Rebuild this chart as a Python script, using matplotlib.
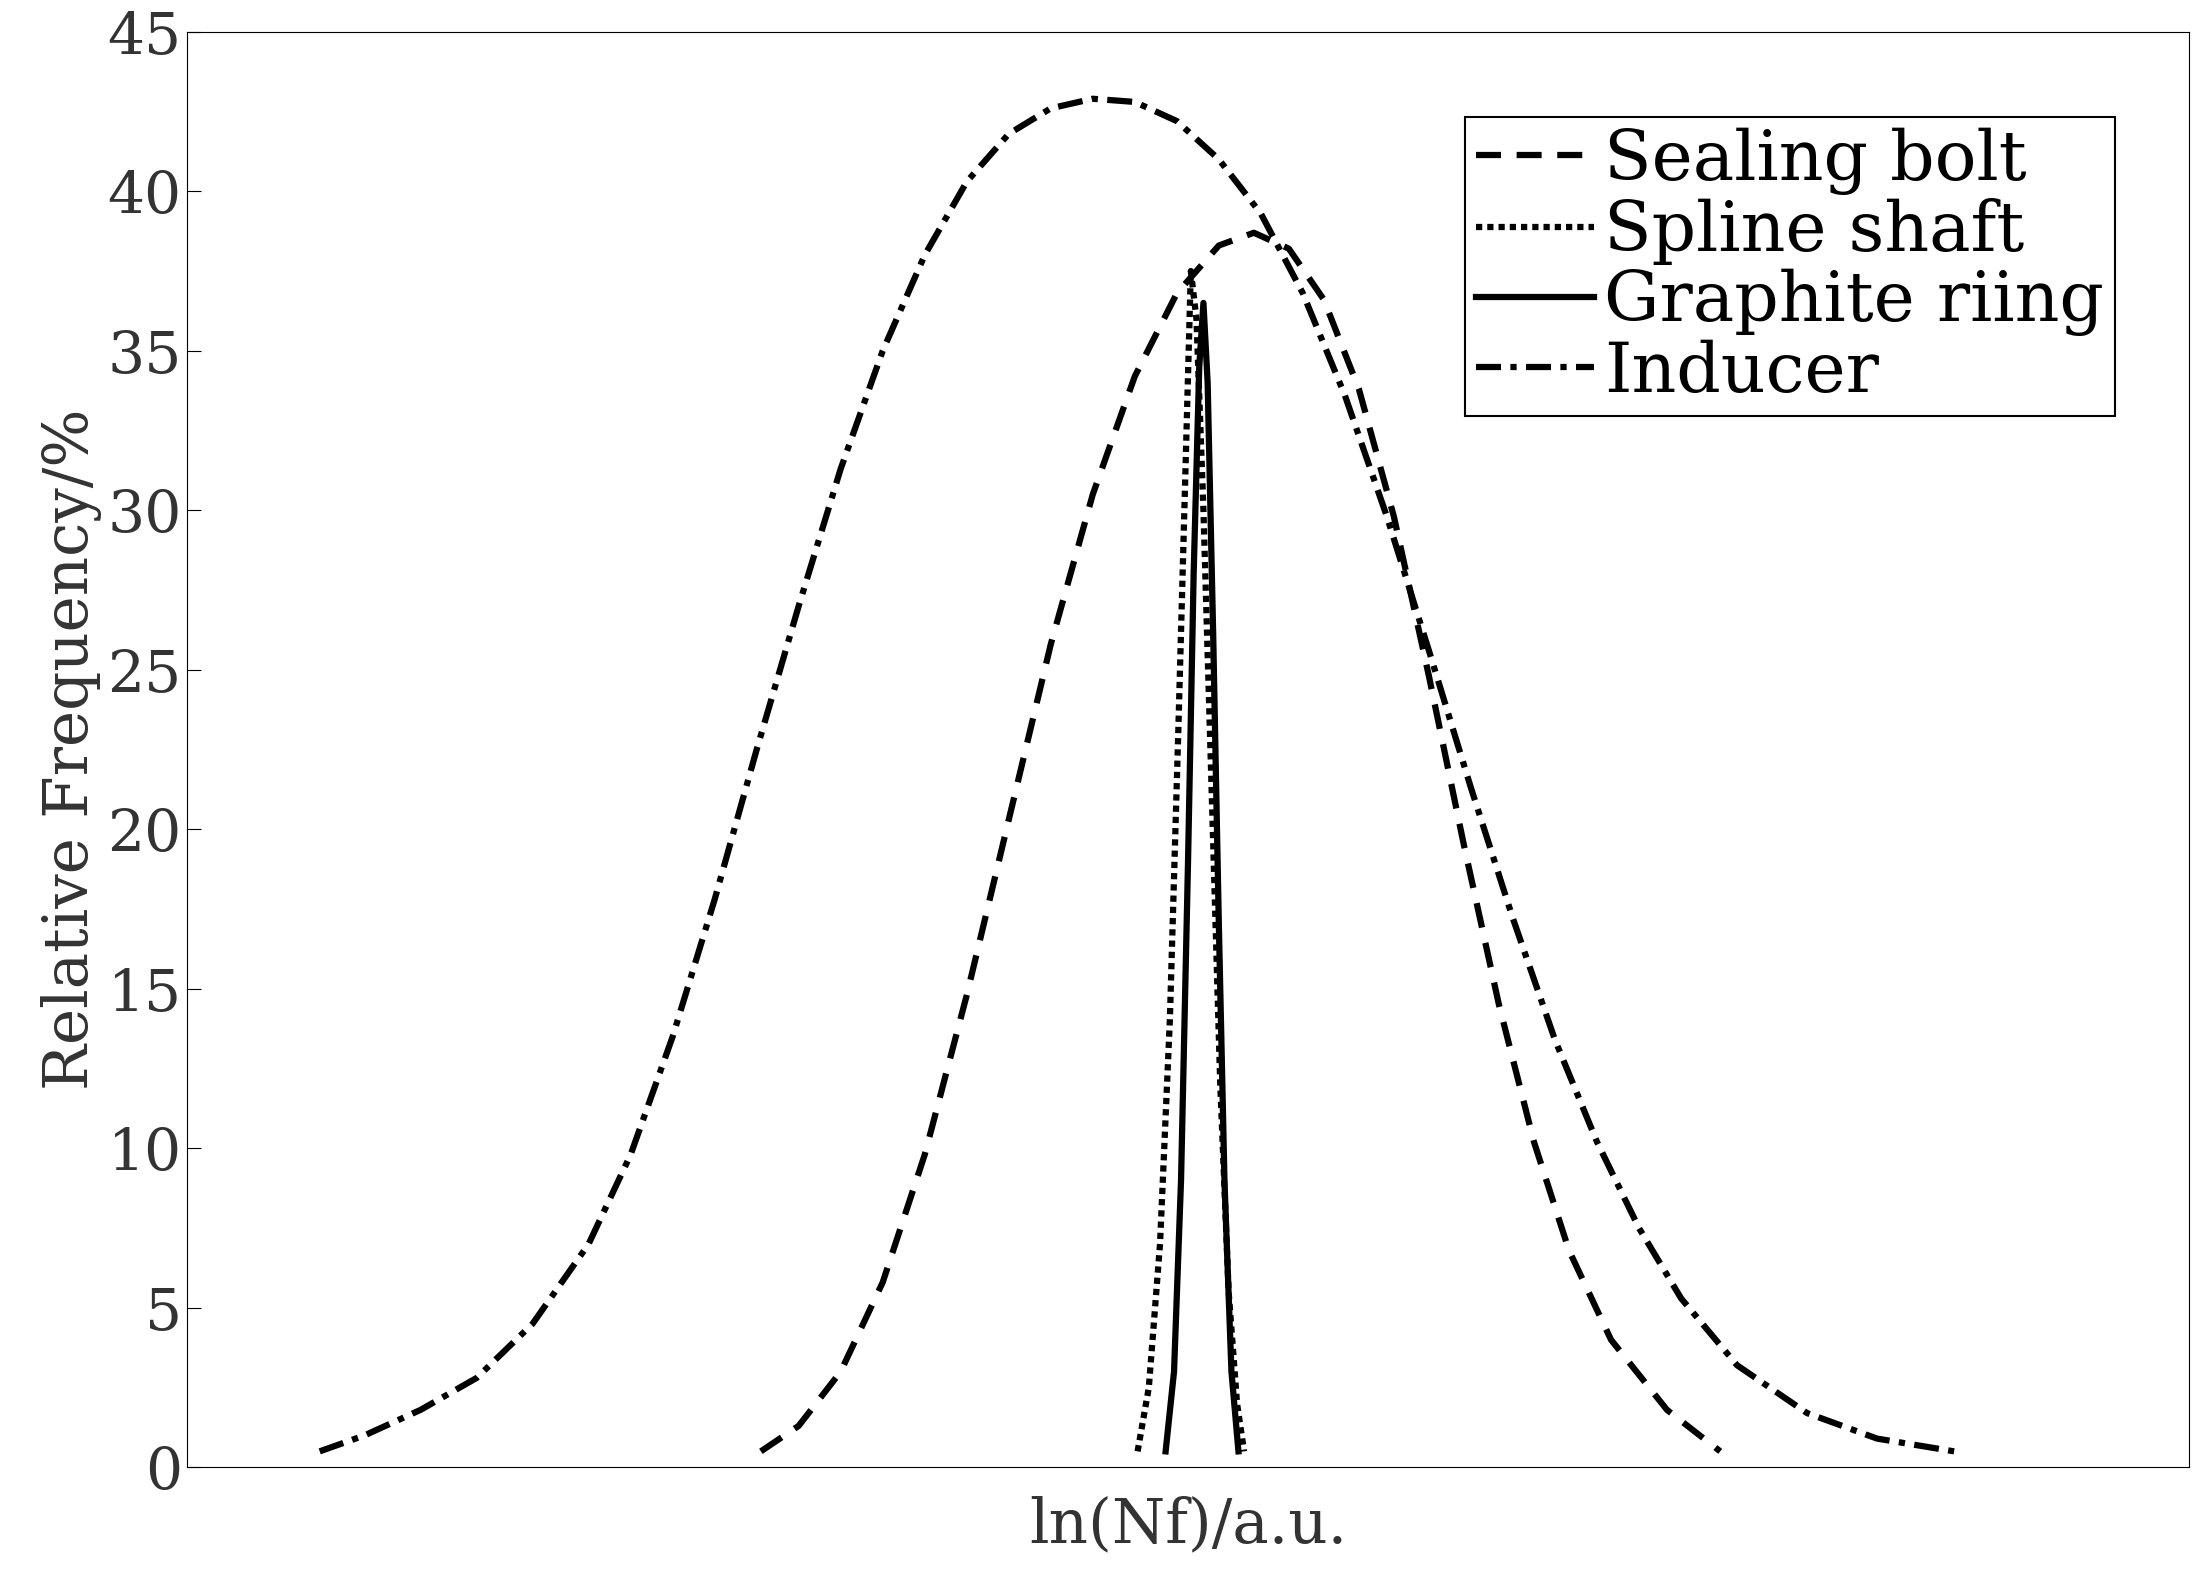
import matplotlib
matplotlib.use("Agg")
import matplotlib.pyplot as plt

# x in arbitrary ln(Nf) units (no ticks on the original axis)
ind_x = [228, 260, 300, 340, 380, 420, 450, 480, 510, 540, 570, 600, 630, 660, 690, 720,
         750, 780, 810, 840, 870, 900, 930, 960, 990, 1020, 1050, 1080, 1110, 1140, 1170,
         1200, 1240, 1290, 1340, 1395]
ind_y = [0.5, 1.0, 1.8, 2.8, 4.5, 7, 9.8, 13.5, 17.8, 22.5, 27, 31.3, 35, 38, 40.3, 41.8,
         42.6, 42.9, 42.8, 42.2, 41, 39.3, 36.8, 33.6, 29.8, 25.6, 21.3, 17.2, 13.4, 10.2, 7.5,
         5.3, 3.2, 1.7, 0.9, 0.5]
bolt_x = [543, 570, 600, 630, 660, 690, 720, 750, 780, 810, 840, 870, 895, 920, 945, 970,
          995, 1020, 1045, 1070, 1095, 1120, 1150, 1190, 1228]
bolt_y = [0.5, 1.3, 3, 5.8, 9.8, 14.8, 20.3, 25.8, 30.5, 34.2, 36.8, 38.3, 38.7, 38.2, 36.6, 33.8,
          29.8, 24.8, 19.5, 14.5, 10.2, 6.8, 4, 1.8, 0.5]
spline_x = [812, 820, 828, 835, 841, 846, 850, 854, 859, 865, 871, 877, 883, 888]
spline_y = [0.5, 2.5, 7, 14, 23, 31, 37.5, 36, 30, 21, 12, 5.5, 2, 0.5]
ring_x = [832, 838, 843, 848, 852, 856, 859, 862, 866, 870, 874, 879, 884]
ring_y = [0.5, 3, 9, 19, 28, 34.5, 36.5, 34, 26, 17, 9, 3, 0.5]

plt.rcParams["font.family"] = ["DejaVu Serif"]
fig = plt.figure(figsize=(21.96, 15.88), dpi=100)
ax = fig.add_axes([0.085, 0.076, 0.912, 0.904])
lw = 4.5
ax.plot(bolt_x, bolt_y, "k", ls=(0, (4, 2.5)), lw=lw, label="Sealing bolt")
ax.plot(spline_x, spline_y, "k", ls=(0, (1, 0.8)), lw=lw, label="Spline shaft")
ax.plot(ring_x, ring_y, "k", ls="-", lw=lw, label="Graphite riing")
ax.plot(ind_x, ind_y, "k", ls=(0, (4, 1.5, 1, 1.5)), lw=lw, label="Inducer")

ax.set_xlim(133, 1563)
ax.set_ylim(0, 45)
ax.set_xticks([])
ax.set_yticks(range(0, 46, 5))
ax.tick_params(axis="y", labelsize=42, labelcolor="#333333", direction="in", length=10)
ax.set_ylabel("Relative Frequency/%", fontsize=44, color="#333333", labelpad=4)
ax.set_xlabel("ln(Nf)/a.u.", fontsize=44, color="#333333", labelpad=20)
leg = ax.legend(loc="upper right", bbox_to_anchor=(0.98, 0.965), fontsize=50,
                handlelength=1.7, handletextpad=0.15, borderpad=0.15, labelspacing=0.05,
                fancybox=False, framealpha=1)
leg.get_frame().set_edgecolor("black")
leg.get_frame().set_linewidth(1.5)
fig.savefig("out.png", dpi=100)
